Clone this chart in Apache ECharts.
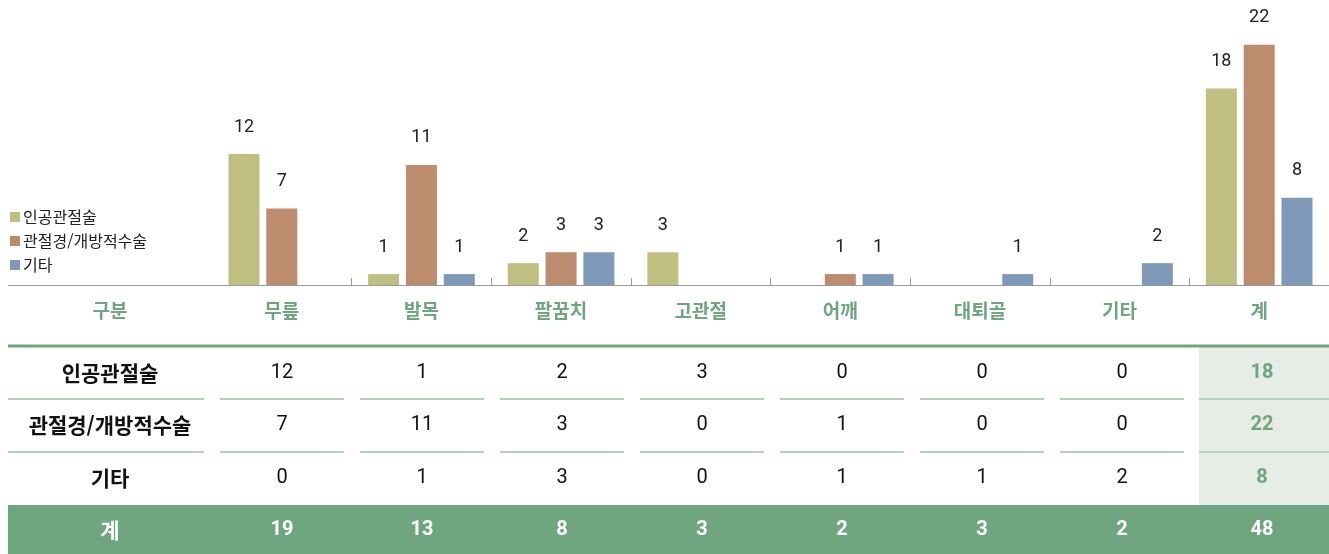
<!DOCTYPE html>
<html lang="ko">
<head>
<meta charset="utf-8">
<title>수술 유형별 부위</title>
<script src="https://cdn.jsdelivr.net/npm/echarts@6/dist/echarts.min.js"></script>
<style>
  html, body { margin: 0; padding: 0; background: #fff; }
  #main { width: 1329px; height: 554px; }
</style>
</head>
<body>
<div id="main"></div>
<script>
// 데이터
var categories = ['무릎', '발목', '팔꿈치', '고관절', '어깨', '대퇴골', '기타', '계'];
var seriesNames = ['인공관절술', '관절경/개방적수술', '기타'];
var artificial = [12, 1, 2, 3, 0, 0, 0, 18];
var arthroscopy = [7, 11, 3, 0, 1, 0, 0, 22];
var others = [0, 1, 3, 0, 1, 1, 2, 8];
var totals = [19, 13, 8, 3, 2, 3, 2, 48];

var colors = ['#c0bf82', '#bd8b6d', '#7f99b8'];
var green = '#6fa680';
var font = '"Noto Sans CJK KR", "Noto Sans", sans-serif';
var numFont = '"Roboto", "Noto Sans CJK KR", sans-serif';

var chart = echarts.init(document.getElementById('main'));

// 0 값은 막대를 그리지 않음
function bars(arr) {
  return arr.map(function (v) { return v === 0 ? null : v; });
}

// 표 레이아웃
var colW = 140, firstX = 282, labelX = 110;
var rowY = [373, 425, 478];
var sumY = 530;
var graphics = [];

// 축선 왼쪽 연장 (첫 눈금은 가림)
graphics.push({ type: 'rect', z: 100, shape: { x: 209, y: 275, width: 7, height: 10 }, style: { fill: '#fff' } });
graphics.push({ type: 'line', z: 101, shape: { x1: 8, y1: 285.5, x2: 213, y2: 285.5 }, style: { stroke: '#9a9a9a', lineWidth: 1 } });
graphics.push({ type: 'text', x: labelX, y: 311, style: { text: '구분', font: 'bold 19px ' + font, fill: green, textAlign: 'center', textVerticalAlign: 'middle' } });

// 합계 열 배경, 합계 행 배경
graphics.push({ type: 'rect', shape: { x: 1199, y: 347, width: 130, height: 158 }, style: { fill: '#e6ece6' } });
graphics.push({ type: 'rect', shape: { x: 8, y: 505, width: 1321, height: 49 }, style: { fill: green } });
graphics.push({ type: 'line', shape: { x1: 8, y1: 346, x2: 1329, y2: 346 }, style: { stroke: green, lineWidth: 3 } });

// 행 구분선
[399, 452].forEach(function (y) {
  graphics.push({ type: 'line', shape: { x1: 8, y1: y, x2: 204, y2: y }, style: { stroke: '#b3d0bb', lineWidth: 2 } });
  for (var i = 0; i < categories.length; i++) {
    var x1 = 220 + i * colW, x2 = x1 + 124;
    if (i === categories.length - 1) { x1 = 1199; x2 = 1329; }
    graphics.push({ type: 'line', shape: { x1: x1, y1: y, x2: x2, y2: y }, style: { stroke: '#b3d0bb', lineWidth: 2 } });
  }
});

var rows = [artificial, arthroscopy, others];
rows.forEach(function (arr, r) {
  graphics.push({ type: 'text', x: labelX, y: rowY[r], style: { text: seriesNames[r], font: 'bold 21px ' + font, fill: '#111', textAlign: 'center', textVerticalAlign: 'middle' } });
  arr.forEach(function (v, i) {
    var last = i === arr.length - 1;
    graphics.push({ type: 'text', x: firstX + i * colW, y: rowY[r], style: { text: String(v), font: (last ? 'bold ' : '') + '20px ' + numFont, fill: last ? green : '#111', textAlign: 'center', textVerticalAlign: 'middle' } });
  });
});
graphics.push({ type: 'text', x: labelX, y: sumY, style: { text: '계', font: 'bold 21px ' + font, fill: '#fff', textAlign: 'center', textVerticalAlign: 'middle' } });
totals.forEach(function (v, i) {
  graphics.push({ type: 'text', x: firstX + i * colW, y: sumY, style: { text: String(v), font: 'bold 20px ' + numFont, fill: '#fff', textAlign: 'center', textVerticalAlign: 'middle' } });
});

var labelStyle = { show: true, position: 'top', distance: 18, fontSize: 18, color: '#222', fontFamily: numFont };

var option = {
  animation: false,
  color: colors,
  legend: {
    data: seriesNames,
    orient: 'vertical',
    left: 5,
    top: 204,
    itemWidth: 10,
    itemHeight: 10,
    itemGap: 8,
    icon: 'rect',
    textStyle: { fontSize: 16, color: '#222', fontFamily: font, lineHeight: 16, padding: [0, 0, 0, -2] }
  },
  grid: { left: 212, top: 23, width: 1120, height: 262 },
  xAxis: {
    type: 'category',
    data: categories,
    axisLine: { lineStyle: { color: '#9a9a9a' } },
    axisTick: { show: true, inside: true, length: 7, lineStyle: { color: '#9a9a9a' } },
    axisLabel: { interval: 0, margin: 16, fontSize: 19, fontWeight: 'bold', color: green, fontFamily: font }
  },
  yAxis: { type: 'value', min: 0, max: 24, show: false, splitLine: { show: false } },
  series: [
    { name: seriesNames[0], type: 'bar', data: bars(artificial), barWidth: 31, barGap: '22%', label: labelStyle },
    { name: seriesNames[1], type: 'bar', data: bars(arthroscopy), barWidth: 31, barGap: '22%', label: labelStyle },
    { name: seriesNames[2], type: 'bar', data: bars(others), barWidth: 31, barGap: '22%', label: labelStyle }
  ],
  graphic: graphics
};
chart.setOption(option);
</script>
</body>
</html>
